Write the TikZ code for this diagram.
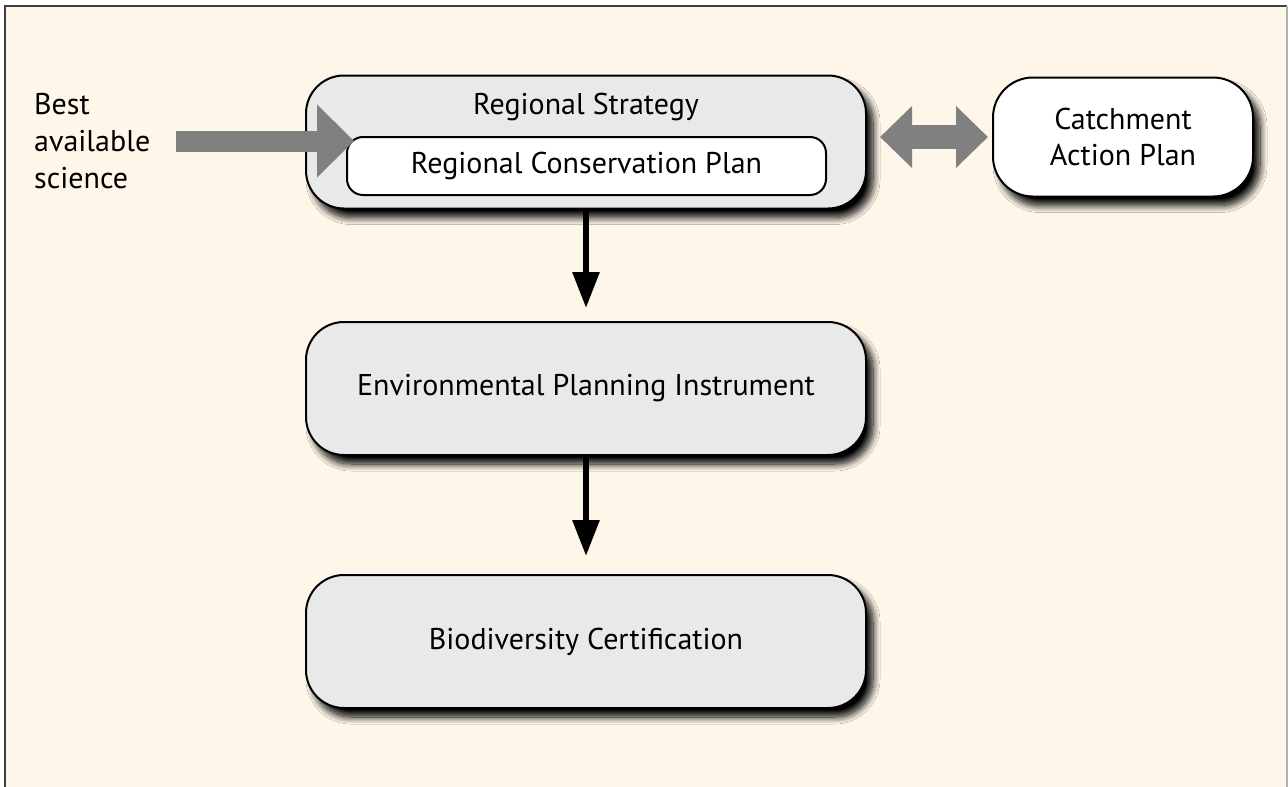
\documentclass[tikz,border=0pt]{standalone}
\usepackage{fontspec}
\setmainfont{PT Sans}
\usetikzlibrary{shadows.blur, arrows.meta}

\definecolor{cream}{HTML}{FEF6E9}
\definecolor{boxgrey}{HTML}{E9E9E9}
\definecolor{flowgrey}{HTML}{808080}

\tikzset{
  shade/.style={blur shadow={shadow xshift=7pt, shadow yshift=-9pt,
      shadow blur radius=7pt, shadow opacity=100, shadow blur steps=12}},
  stage/.style={draw=black, line width=2pt, fill=boxgrey, rounded corners=38pt,
      minimum width=560pt, minimum height=133pt, inner sep=0pt, shade},
  plainbox/.style={draw=black, line width=2pt, fill=white, inner sep=0pt},
  label/.style={inner sep=0pt, align=center},
  down/.style={draw=black, line width=6pt,
      -{Triangle[length=36pt, width=26pt]}},
  bigflow/.style={draw=flowgrey, line width=21pt,
      -{Triangle[length=37pt, width=71pt]}, color=flowgrey},
  twoway/.style={draw=flowgrey, line width=24pt, color=flowgrey,
      {Triangle[length=32pt, width=60pt]}-{Triangle[length=32pt, width=60pt]}}
}

\begin{document}
\begin{tikzpicture}[x=1pt, y=-1pt, font=\fontsize{30}{36}\selectfont]
  \useasboundingbox (0,0) rectangle (1288,787);
  % page and framed panel
  \fill[white] (0,0) rectangle (1288,787);
  \fill[cream] (5,6) rectangle (1288,787);
  \draw[black!75, line width=2pt] (5,787) -- (5,6) -- (1287,6);
  \draw[black!30, line width=1.5pt] (1287,6) -- (1287,787);

  % boxes
  \node[stage] (rs) at (586,142) {};
  \node[label] (rstitle) at (586,107) {Regional Strategy};
  \node[plainbox, rounded corners=16pt, minimum width=479pt, minimum height=58pt]
      (plan) at (586.5,166) {Regional Conservation Plan};
  \node[stage] (epi) at (586,388.5) {Environmental Planning Instrument};
  \node[stage] (bc) at (586,641.5) {Biodiversity Certification};
  \node[plainbox, rounded corners=40pt, minimum width=260pt, minimum height=119pt,
      shade, align=center] (cap) at (1123,137) {Catchment\\Action Plan};

  % input label
  \node[label, anchor=west, align=left, font=\fontsize{30}{37}\selectfont]
      (best) at (34,141) {Best\\available\\science};

  % flows
  \draw[bigflow] ([xshift=25pt]best.east) -- ([xshift=8pt]best.east -| plan.west);
  \draw[twoway] ([xshift=13pt]rs.east |- cap.west) -- ([xshift=-4pt]cap.west);
  \draw[down, shorten >=13pt] (rs.south) -- (epi.north);
  \draw[down, shorten >=18pt] (epi.south) -- (bc.north);
\end{tikzpicture}
\end{document}
